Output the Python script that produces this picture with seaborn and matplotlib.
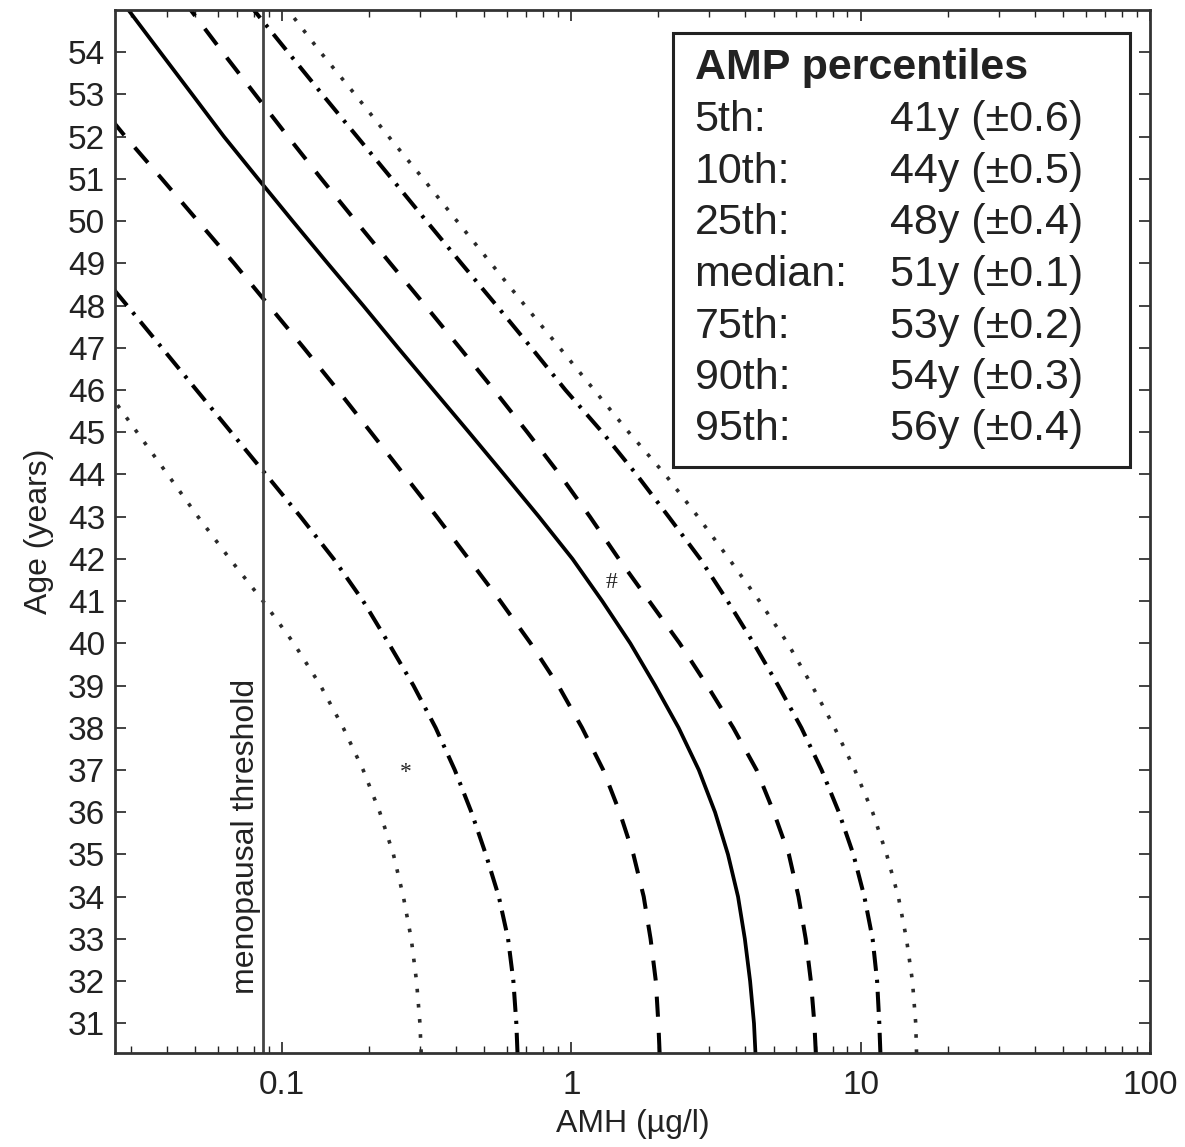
import seaborn as sns
import matplotlib.pyplot as plt
import matplotlib.ticker as mticker
from matplotlib.patches import Rectangle
import pandas as pd
import numpy as np

ages = [30.3, 31, 32, 33, 34, 35, 36, 37, 38, 39, 40, 41, 42,
        43, 44, 45, 46, 47, 48, 49, 50, 51, 52, 53, 54, 55]

# AMH (ug/l) per percentile at those ages
p5 = [0.303, 0.300, 0.292, 0.280, 0.263, 0.243, 0.218, 0.191, 0.163, 0.136, 0.110, 0.0861, 0.0661,
      0.0513, 0.0403, 0.0316, 0.0248, 0.0195, 0.0153, 0.0120, 0.0094, 0.0074, 0.0058, 0.0046, 0.0036, 0.0028]
p10 = [0.652, 0.646, 0.631, 0.605, 0.562, 0.507, 0.452, 0.396, 0.340, 0.285, 0.234, 0.191, 0.151,
       0.116, 0.0881, 0.0668, 0.0507, 0.0385, 0.0292, 0.0221, 0.0168, 0.0127, 0.0097, 0.0073, 0.0056, 0.0042]
p25 = [2.02, 2.00, 1.96, 1.88, 1.78, 1.64, 1.47, 1.29, 1.09, 0.902, 0.724, 0.569, 0.442,
       0.343, 0.264, 0.203, 0.156, 0.119, 0.0902, 0.0684, 0.0513, 0.0385, 0.0288, 0.0219, 0.0166, 0.0126]
p50 = [4.33, 4.28, 4.15, 3.98, 3.77, 3.48, 3.14, 2.76, 2.35, 1.95, 1.60, 1.28, 1.01,
       0.773, 0.586, 0.443, 0.334, 0.252, 0.191, 0.144, 0.109, 0.0828, 0.0631, 0.0490, 0.0380, 0.0295]
p75 = [7.00, 6.92, 6.73, 6.46, 6.10, 5.65, 5.01, 4.37, 3.63, 2.95, 2.37, 1.86, 1.46,
       1.16, 0.912, 0.705, 0.541, 0.412, 0.313, 0.237, 0.180, 0.137, 0.105, 0.0809, 0.0624, 0.0484]
p90 = [11.7, 11.6, 11.4, 11.0, 10.3, 9.44, 8.41, 7.33, 6.24, 5.19, 4.27, 3.47, 2.79,
       2.17, 1.68, 1.28, 0.955, 0.728, 0.552, 0.417, 0.316, 0.240, 0.182, 0.138, 0.105, 0.080]
p95 = [15.6, 15.5, 15.1, 14.4, 13.5, 12.3, 11.0, 9.55, 8.13, 6.79, 5.60, 4.47, 3.51,
       2.74, 2.11, 1.58, 1.20, 0.912, 0.692, 0.528, 0.403, 0.308, 0.234, 0.179, 0.136, 0.105]

threshold = 0.086

legend_names = ['5th:', '10th:', '25th:', 'median:', '75th:', '90th:', '95th:']
legend_vals = ['41y (\u00b10.6)', '44y (\u00b10.5)', '48y (\u00b10.4)', '51y (\u00b10.1)',
               '53y (\u00b10.2)', '54y (\u00b10.3)', '56y (\u00b10.4)']

sns.set_style('ticks')
plt.rcParams['font.family'] = ['Liberation Sans', 'DejaVu Sans']

fig = plt.figure(figsize=(11.85, 11.47), dpi=100)
ax = fig.add_axes([0.097, 0.082, 0.8735, 0.9093])

dotted = (0, (1.0, 3.2))
dashed = (0, (5, 4))
dashdot = (0, (5, 2.2, 0.8, 2.2))

curves = [
    (p5, dotted, 2.6, '#2a2a2a'),
    (p10, dashdot, 2.9, 'black'),
    (p25, dashed, 2.9, 'black'),
    (p50, '-', 2.7, 'black'),
    (p75, dashed, 2.9, 'black'),
    (p90, dashdot, 2.9, 'black'),
    (p95, dotted, 2.6, '#2a2a2a'),
]
for vals, ls, lw, col in curves:
    sns.lineplot(x=vals, y=ages, ax=ax, color=col, lw=lw, linestyle=ls,
                 sort=False, estimator=None)

ax.axvline(threshold, color='#444444', lw=2)
ax.text(0.075, 31.7, 'menopausal threshold', rotation=90, ha='center', va='bottom',
        fontsize=23, color='#222222')

# markers from the original figure
ax.text(1.38, 41.45, '#', family='Liberation Serif', fontsize=17, ha='center', va='center')
ax.text(0.267, 36.95, '*', family='Liberation Serif', fontsize=17, ha='center', va='center')

ax.set_xscale('log')
ax.set_xlim(0.0265, 100)
ax.set_ylim(30.3, 55.0)
ax.set_xticks([0.1, 1, 10, 100])
ax.set_xticklabels(['0.1', '1', '10', '100'])
ax.xaxis.set_minor_formatter(mticker.NullFormatter())
ax.set_yticks(range(31, 55))

ax.tick_params(which='both', direction='in', top=True, right=True,
               labelsize=24, colors='#222222')
ax.tick_params(which='major', length=8, width=1.2)
ax.tick_params(which='minor', length=5, width=1.0)
ax.tick_params(axis='x', pad=12)
ax.tick_params(axis='y', pad=7)
for sp in ax.spines.values():
    sp.set_linewidth(2)
    sp.set_color('#333333')

ax.set_xlabel('AMH (\u00b5g/l)', fontsize=23, color='#222222', labelpad=6)
ax.set_ylabel('Age (years)', fontsize=23, color='#222222', labelpad=10)

# legend box with the percentile ages
ax.add_patch(Rectangle((0.539, 0.562), 0.442, 0.416, transform=ax.transAxes,
                       fill=True, facecolor='white', edgecolor='#222222', lw=2.2, zorder=5))
ax.text(0.560, 0.944, 'AMP percentiles', transform=ax.transAxes, fontsize=31,
        fontweight='bold', va='center', ha='left', color='#222222', zorder=6)
row_y = [0.8945, 0.8447, 0.7958, 0.7459, 0.6961, 0.6472, 0.5983]
for name, val, y in zip(legend_names, legend_vals, row_y):
    ax.text(0.560, y, name, transform=ax.transAxes, fontsize=31, va='center',
            ha='left', color='#222222', zorder=6)
    ax.text(0.749, y, val, transform=ax.transAxes, fontsize=31, va='center',
            ha='left', color='#222222', zorder=6)

fig.savefig('out.png', dpi=100)
